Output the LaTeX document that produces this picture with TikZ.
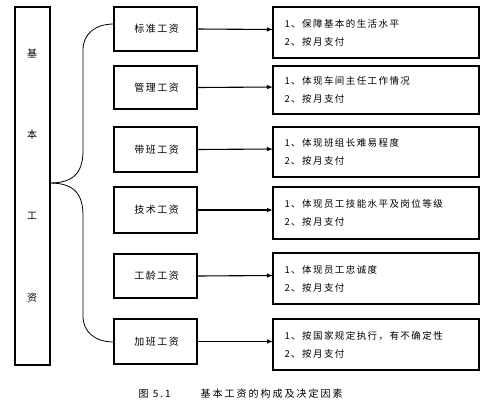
\documentclass[tikz,border=0pt]{standalone}
\usepackage{fontspec}
\newfontfamily\cjk{Noto Sans CJK SC}
\newfontfamily\cjksp{Noto Sans CJK SC}[LetterSpace=15]
\newfontfamily\cjkcap{Noto Sans CJK SC}[LetterSpace=20]
\usetikzlibrary{arrows.meta}
\begin{document}
\begin{tikzpicture}[x=1pt,y=-1pt,
  box/.style={draw,line width=1.2pt,inner sep=0pt},
  lefttxt/.style={font=\cjk\fontsize{10}{12}\selectfont},
  midtxt/.style={font=\cjksp\fontsize{10}{12}\selectfont},
  rtxt/.style={font=\cjksp\fontsize{9.5}{18}\selectfont,align=left,anchor=west},
  captxt/.style={font=\cjkcap\fontsize{10}{12}\selectfont,anchor=west},
  conn/.style={line width=1.1pt,-{Latex[length=6pt,width=4.5pt]}},
  brace/.style={line width=0.8pt}]
\useasboundingbox (0,0) rectangle (497,405);
% left tall box
\draw[box] (15,7) rectangle (50,365);
\node[lefttxt] (l1) at (32,54) {基};
\node[lefttxt] (l2) at (32,135) {本};
\node[lefttxt] (l3) at (32,216) {工};
\node[lefttxt] (l4) at (32,298) {资};
\coordinate (root) at (50,183);
% middle boxes
\foreach \n/\t/\b/\txt in {1/7/51/标准工资,2/66/109/管理工资,3/127/172/带班工资,4/187/233/技术工资,5/254/298/工龄工资,6/319/364/加班工资}{
  \draw[box] (114,\t) rectangle (197,\b);
  \node[midtxt] (m\n) at (156.5,{(\t+\b)/2}) {\txt};
  \coordinate (me\n) at (197,{(\t+\b)/2});
}
% right boxes
\foreach \n/\t/\b/\txt in {1/7/58/保障基本的生活水平,2/66/114/体现车间主任工作情况,3/127/177/体现班组长难易程度,4/187/239/体现员工技能水平及岗位等级,5/253/304/体现员工忠诚度,6/319/370/按国家规定执行，有不确定性}{
  \draw[box] (273,\t) rectangle (479,\b);
  \node[rtxt] (r\n) at (281,{(\t+\b)/2}) {1、\txt\\2、按月支付};
  \coordinate (re\n) at (273,{(\t+\b)/2-3});
}
\draw[conn] (me1) -- (re1);
\draw[conn] (me2) -- (re2);
\draw[conn] (me3) -- (re3);
\draw[conn] (me4) -- (re4);
\draw[conn] (me5) -- (re5);
\draw[conn] (me6) -- (re6);
% brace
\coordinate (btop) at (114,24);
\coordinate (bbot) at (114,342);
\draw[brace] (root) .. controls (76,183) and (83,170) .. (83,150) -- (83,50) .. controls (83,34) and (95,24) .. (btop);
\draw[brace] (root) .. controls (76,183) and (83,196) .. (83,216) -- (83,316) .. controls (83,332) and (95,342) .. (bbot);
% caption
\node[captxt] (cap1) at (135,394) {图 5.1};
\node[captxt] (cap2) at (197,394) {基本工资的构成及决定因素};
\end{tikzpicture}
\end{document}
